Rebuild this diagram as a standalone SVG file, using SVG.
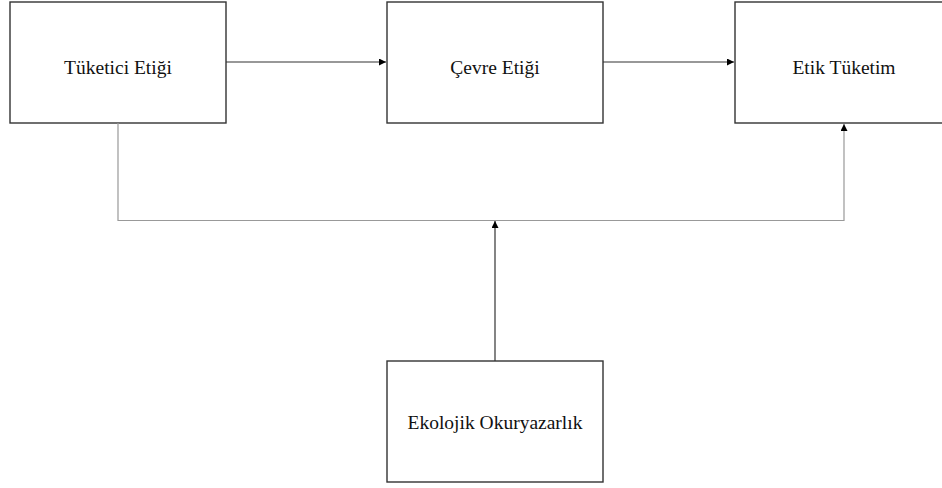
<svg xmlns="http://www.w3.org/2000/svg" width="942" height="488" viewBox="0 0 942 488">
<style>
.box{fill:#fff;stroke:#333;stroke-width:1.4}
.lbl{font-family:"Liberation Serif","Times New Roman",serif;font-size:19.5px;fill:#111;text-anchor:middle}
.dark{stroke:#333;stroke-width:1.2;fill:none}
.light{stroke:#999;stroke-width:1.2;fill:none}
</style>
<defs>
<marker id="ah" viewBox="0 0 10 10" refX="10" refY="5" markerWidth="7" markerHeight="7" markerUnits="userSpaceOnUse" orient="auto">
<path d="M0,0 L10,5 L0,10 z" fill="#000"/>
</marker>
</defs>
<rect width="942" height="488" fill="#fff"/>
<g id="n1"><rect class="box" x="10" y="2" width="216" height="121"/><text class="lbl" x="118" y="74">Tüketici Etiği</text></g>
<g id="n2"><rect class="box" x="387" y="2" width="216" height="121"/><text class="lbl" x="495" y="74">Çevre Etiği</text></g>
<g id="n3"><rect class="box" x="735" y="2" width="218" height="121"/><text class="lbl" x="844" y="74">Etik Tüketim</text></g>
<g id="n4"><rect class="box" x="387" y="361" width="216" height="121"/><text class="lbl" x="495" y="429">Ekolojik Okuryazarlık</text></g>
<g id="connectors">
<line class="dark" x1="226" y1="62" x2="386" y2="62" marker-end="url(#ah)"/>
<line class="dark" x1="603" y1="62" x2="734" y2="62" marker-end="url(#ah)"/>
<polyline class="light" points="118,123 118,220.5 844,220.5 844,124" marker-end="url(#ah)"/>
<line class="dark" x1="495" y1="361" x2="495" y2="221" marker-end="url(#ah)"/>
</g>
</svg>
